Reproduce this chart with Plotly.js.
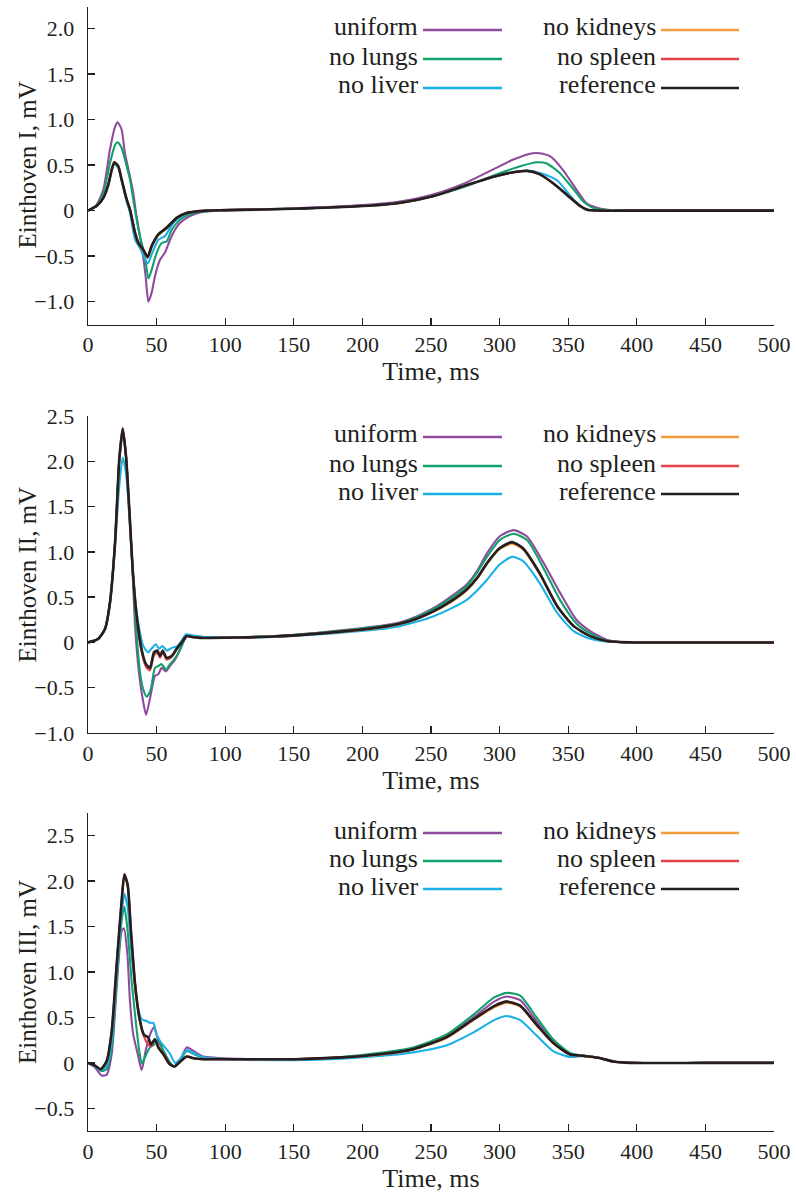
<!DOCTYPE html>
<html>
<head>
<meta charset="utf-8">
<script src="https://cdn.plot.ly/plotly-3.0.1.min.js"></script>
<style>html,body{margin:0;padding:0;background:#fff;}#chart{width:796px;height:1199px;}</style>
</head>
<body>
<div id="chart"></div>
<script>
// ---------- series names & colours ----------
const seriesNames = ["uniform", "no lungs", "no liver", "no kidneys", "no spleen", "reference"];
const seriesColors = ["#8e4b9e", "#12a06a", "#19b0e8", "#f39a3c", "#e6444b", "#231f20"];
const leadTitles = ["Einthoven I, mV", "Einthoven II, mV", "Einthoven III, mV"];
const xTitle = "Time, ms";
const xTickVals = [0, 50, 100, 150, 200, 250, 300, 350, 400, 450, 500];
const xTickText = ["0", "50", "100", "150", "200", "250", "300", "350", "400", "450", "500"];
const yTickValsI = [-1.0, -0.5, 0, 0.5, 1.0, 1.5, 2.0];
const yTickTextI = ["\u22121.0", "\u22120.5", "0", "0.5", "1.0", "1.5", "2.0"];
const yTickValsII = [-1.0, -0.5, 0, 0.5, 1.0, 1.5, 2.0, 2.5];
const yTickTextII = ["\u22121.0", "\u22120.5", "0", "0.5", "1.0", "1.5", "2.0", "2.5"];
const yTickValsIII = [-0.5, 0, 0.5, 1.0, 1.5, 2.0, 2.5];
const yTickTextIII = ["\u22120.5", "0", "0.5", "1.0", "1.5", "2.0", "2.5"];

// ---------- Lead I ----------
const I_uniform_t = [0, 6.3, 11.2, 16.0, 19.7, 21.6, 24.5, 26.9, 30.1, 33.0, 35.0, 37.4, 39.8, 42.0, 44.0, 46.4, 48.8, 52.5, 56.1, 59.8, 63.4, 67.0, 74.3, 81.6, 89, 100, 150, 200, 227, 252, 276, 295, 310, 324, 329, 337, 346, 356, 363, 371, 378, 388, 450, 500];
const I_uniform_v = [0, 0.066, 0.23, 0.67, 0.92, 0.97, 0.89, 0.63, 0.41, 0.19, -0.025, -0.245, -0.46, -0.72, -1.0, -0.90, -0.72, -0.54, -0.46, -0.32, -0.21, -0.135, -0.06, -0.02, 0, 0.005, 0.025, 0.06, 0.10, 0.18, 0.31, 0.45, 0.56, 0.63, 0.63, 0.595, 0.45, 0.23, 0.085, 0.03, 0.01, 0, 0, 0];
const I_lungs_t = [0, 6.3, 11.2, 16.0, 19.7, 21.6, 24.5, 28.2, 30.6, 33.0, 35.5, 37.9, 41.5, 44.0, 46.4, 50.1, 53.7, 57.3, 61.0, 67.0, 74.3, 84.0, 100, 150, 200, 227, 252, 276, 300, 315, 327, 334, 344, 354, 361, 368, 378, 390, 450, 500];
const I_lungs_v = [0, 0.055, 0.19, 0.52, 0.72, 0.75, 0.69, 0.485, 0.34, 0.12, -0.10, -0.28, -0.50, -0.745, -0.65, -0.46, -0.355, -0.34, -0.21, -0.10, -0.04, -0.01, 0.003, 0.02, 0.05, 0.085, 0.16, 0.27, 0.41, 0.486, 0.53, 0.52, 0.41, 0.23, 0.10, 0.03, 0.01, 0, 0, 0];
const I_liver_t = [0, 6.3, 11.2, 14.8, 17.3, 19.2, 22.1, 24.5, 28.2, 30.6, 34.3, 37.9, 43.5, 46.4, 51.3, 56.1, 62.2, 69.5, 79.2, 90, 100, 150, 200, 227, 252, 276, 295, 310, 320, 330, 342, 354, 363, 373, 400, 450, 500];
const I_liver_v = [0, 0.05, 0.14, 0.28, 0.44, 0.51, 0.47, 0.33, 0.10, -0.02, -0.32, -0.41, -0.58, -0.48, -0.32, -0.28, -0.135, -0.05, -0.01, 0, 0.005, 0.02, 0.05, 0.084, 0.16, 0.28, 0.37, 0.42, 0.44, 0.41, 0.33, 0.12, 0.01, 0, 0, 0, 0];
const I_kidneys_t = [0, 6.3, 11.2, 14.8, 17.3, 19.2, 22.1, 24.5, 28.2, 30.6, 34.3, 36.7, 40.3, 43.5, 46.4, 51.3, 57.3, 64.6, 71.9, 86.5, 100, 150, 200, 227, 252, 276, 295, 310, 320, 329, 339, 349, 359, 364, 373, 400, 450, 500];
const I_kidneys_v = [0, 0.05, 0.14, 0.28, 0.45, 0.52, 0.48, 0.34, 0.12, 0.01, -0.25, -0.36, -0.44, -0.52, -0.40, -0.27, -0.19, -0.08, -0.025, 0, 0.005, 0.02, 0.05, 0.084, 0.16, 0.28, 0.37, 0.42, 0.435, 0.40, 0.30, 0.175, 0.048, 0.01, 0, 0, 0, 0];
const I_spleen_t = [0, 6.3, 11.2, 14.8, 17.3, 19.2, 22.1, 24.5, 28.2, 30.6, 34.3, 36.7, 40.3, 43.5, 46.4, 51.3, 57.3, 64.6, 71.9, 86.5, 100, 150, 200, 227, 252, 276, 295, 310, 320, 329, 339, 349, 359, 364, 373, 400, 450, 500];
const I_spleen_v = [0, 0.05, 0.14, 0.285, 0.45, 0.53, 0.485, 0.35, 0.13, 0.02, -0.24, -0.35, -0.43, -0.50, -0.38, -0.26, -0.18, -0.08, -0.025, 0, 0.005, 0.02, 0.05, 0.084, 0.16, 0.28, 0.37, 0.42, 0.437, 0.40, 0.30, 0.17, 0.045, 0.01, 0, 0, 0, 0];
const I_reference_t = [0, 6.3, 11.2, 14.8, 17.3, 19.2, 22.1, 24.5, 28.2, 30.6, 34.3, 36.7, 40.3, 43.5, 46.4, 51.3, 57.3, 64.6, 71.9, 86.5, 100, 150, 200, 227, 252, 276, 295, 310, 320, 329, 339, 349, 359, 364, 373, 400, 450, 500];
const I_reference_v = [0, 0.05, 0.14, 0.285, 0.45, 0.53, 0.485, 0.34, 0.12, 0.01, -0.245, -0.355, -0.43, -0.51, -0.39, -0.26, -0.19, -0.08, -0.025, 0, 0.005, 0.02, 0.05, 0.084, 0.16, 0.28, 0.37, 0.42, 0.436, 0.40, 0.30, 0.175, 0.048, 0.01, 0, 0, 0, 0];

// ---------- Lead II ----------
const II_uniform_t = [0, 7.5, 12.4, 16.0, 19.7, 22.8, 25.3, 27.7, 30.1, 32.6, 34.3, 37.4, 40.3, 42.3, 45.2, 48.8, 51.3, 53.7, 56.8, 59.8, 63.4, 67.0, 72.0, 76.8, 85, 110, 135, 170, 195, 212, 227, 240, 252, 264, 276, 284, 291, 300, 310, 320, 332, 344, 356, 366, 378, 390, 450, 500];
const II_uniform_v = [0, 0.04, 0.15, 0.44, 1.10, 2.0, 2.33, 2.05, 1.45, 0.75, 0.18, -0.37, -0.66, -0.80, -0.62, -0.37, -0.35, -0.28, -0.32, -0.26, -0.19, -0.08, 0.07, 0.065, 0.06, 0.06, 0.07, 0.11, 0.15, 0.18, 0.22, 0.29, 0.38, 0.50, 0.64, 0.80, 0.99, 1.17, 1.24, 1.17, 0.88, 0.55, 0.25, 0.125, 0.03, 0, 0, 0];
const II_lungs_t = [0, 7.5, 12.4, 16.0, 19.7, 22.8, 25.3, 27.7, 30.1, 32.6, 35.0, 37.9, 40.3, 42.8, 45.7, 48.8, 51.3, 53.7, 56.8, 59.8, 64.6, 68.3, 72.0, 76.8, 85, 110, 135, 170, 195, 212, 227, 240, 252, 264, 276, 284, 291, 300, 310, 320, 332, 344, 356, 366, 378, 395, 450, 500];
const II_lungs_v = [0, 0.04, 0.15, 0.44, 1.10, 2.0, 2.33, 2.05, 1.46, 0.78, 0.18, -0.33, -0.52, -0.60, -0.52, -0.28, -0.26, -0.24, -0.30, -0.24, -0.15, -0.04, 0.075, 0.065, 0.06, 0.06, 0.07, 0.11, 0.145, 0.175, 0.21, 0.28, 0.37, 0.48, 0.62, 0.78, 0.95, 1.13, 1.20, 1.13, 0.82, 0.47, 0.21, 0.10, 0.02, 0, 0, 0];
const II_liver_t = [0, 7.5, 12.4, 16.0, 19.7, 22.8, 25.3, 27.7, 30.1, 33.0, 35.9, 40.3, 43.9, 46.2, 49.4, 51.8, 54.2, 57.6, 61.0, 65.1, 68.3, 71.5, 75.6, 85, 110, 135, 170, 195, 212, 227, 240, 252, 264, 276, 284, 291, 300, 309, 317, 329, 342, 354, 366, 378, 395, 450, 500];
const II_liver_v = [0, 0.04, 0.14, 0.42, 1.06, 1.73, 2.04, 1.87, 1.40, 0.73, 0.29, -0.04, -0.11, -0.07, -0.02, -0.07, -0.04, -0.09, -0.06, -0.04, 0.02, 0.09, 0.08, 0.06, 0.055, 0.06, 0.09, 0.12, 0.145, 0.18, 0.23, 0.29, 0.37, 0.47, 0.58, 0.695, 0.86, 0.945, 0.90, 0.66, 0.327, 0.125, 0.04, 0.01, 0, 0, 0];
const II_kidneys_t = [0, 7.5, 12.4, 16.0, 19.7, 22.8, 25.3, 27.7, 30.1, 32.6, 35.0, 39.1, 42.3, 45.2, 48.1, 50.5, 52.5, 54.4, 57.3, 61.0, 64.6, 68.3, 72.0, 75.6, 81.6, 110, 135, 170, 195, 212, 227, 240, 252, 264, 276, 284, 291, 300, 309, 317, 329, 342, 354, 366, 378, 398, 450, 500];
const II_kidneys_v = [0, 0.04, 0.15, 0.44, 1.10, 2.01, 2.35, 2.05, 1.47, 0.80, 0.36, -0.09, -0.25, -0.29, -0.12, -0.10, -0.16, -0.10, -0.18, -0.15, -0.07, 0, 0.07, 0.06, 0.05, 0.055, 0.065, 0.10, 0.13, 0.16, 0.20, 0.26, 0.34, 0.44, 0.575, 0.71, 0.87, 1.03, 1.09, 1.03, 0.76, 0.40, 0.18, 0.07, 0.016, 0, 0, 0];
const II_spleen_t = [0, 7.5, 12.4, 16.0, 19.7, 22.8, 25.3, 27.7, 30.1, 32.6, 35.0, 39.1, 42.3, 45.2, 48.1, 50.5, 52.5, 54.4, 57.3, 61.0, 64.6, 68.3, 72.0, 75.6, 81.6, 110, 135, 170, 195, 212, 227, 240, 252, 264, 276, 284, 291, 300, 309, 317, 329, 342, 354, 366, 378, 398, 450, 500];
const II_spleen_v = [0, 0.04, 0.15, 0.44, 1.10, 2.03, 2.37, 2.06, 1.47, 0.80, 0.35, -0.10, -0.27, -0.31, -0.14, -0.11, -0.17, -0.11, -0.19, -0.16, -0.08, 0, 0.07, 0.06, 0.05, 0.055, 0.065, 0.10, 0.135, 0.165, 0.205, 0.265, 0.345, 0.45, 0.585, 0.72, 0.88, 1.04, 1.10, 1.04, 0.77, 0.40, 0.18, 0.07, 0.016, 0, 0, 0];
const II_reference_t = [0, 7.5, 12.4, 16.0, 19.7, 22.8, 25.3, 27.7, 30.1, 32.6, 35.0, 39.1, 42.3, 45.2, 48.1, 50.5, 52.5, 54.4, 57.3, 61.0, 64.6, 68.3, 72.0, 75.6, 81.6, 110, 135, 170, 195, 212, 227, 240, 252, 264, 276, 284, 291, 300, 309, 317, 329, 342, 354, 366, 378, 398, 450, 500];
const II_reference_v = [0, 0.04, 0.15, 0.44, 1.10, 2.02, 2.36, 2.06, 1.47, 0.80, 0.36, -0.08, -0.24, -0.28, -0.11, -0.09, -0.15, -0.09, -0.17, -0.15, -0.07, 0, 0.07, 0.06, 0.05, 0.055, 0.065, 0.10, 0.135, 0.165, 0.205, 0.265, 0.345, 0.45, 0.585, 0.72, 0.88, 1.04, 1.107, 1.04, 0.77, 0.40, 0.18, 0.07, 0.016, 0, 0, 0];

// ---------- Lead III ----------
const III_uniform_t = [0, 5.1, 10.0, 13.6, 17.3, 20.9, 24.5, 26.2, 28.7, 30.6, 33.0, 36.2, 39.1, 42.0, 45.2, 48.1, 51.3, 55.0, 59.8, 63.0, 67.0, 71.9, 78.0, 84.0, 110, 150, 185, 213, 237, 261, 281, 296, 305, 315, 327, 339, 351, 361, 371, 383, 395, 450, 500];
const III_uniform_v = [0, -0.05, -0.14, -0.13, 0.10, 0.83, 1.45, 1.48, 1.20, 0.68, 0.31, 0.10, -0.08, 0.13, 0.31, 0.39, 0.24, 0.13, 0.0, -0.04, 0.02, 0.17, 0.12, 0.07, 0.045, 0.04, 0.06, 0.10, 0.155, 0.29, 0.50, 0.674, 0.73, 0.69, 0.46, 0.24, 0.10, 0.08, 0.06, 0.015, 0, 0, 0];
const III_lungs_t = [0, 5.1, 10.0, 13.6, 17.3, 20.9, 24.5, 26.5, 28.9, 31.8, 35.0, 37.4, 39.3, 42.3, 45.2, 48.1, 51.3, 55.0, 59.8, 63.0, 67.0, 71.9, 78.0, 84.0, 110, 150, 185, 213, 237, 261, 281, 296, 305, 315, 327, 339, 351, 361, 371, 383, 395, 450, 500];
const III_lungs_v = [0, -0.04, -0.09, -0.07, 0.17, 0.90, 1.56, 1.72, 1.45, 0.90, 0.43, 0.13, -0.01, 0.09, 0.17, 0.20, 0.26, 0.13, 0.0, -0.04, 0.02, 0.13, 0.09, 0.06, 0.04, 0.04, 0.065, 0.11, 0.17, 0.31, 0.53, 0.72, 0.77, 0.74, 0.50, 0.26, 0.11, 0.08, 0.06, 0.015, 0, 0, 0];
const III_liver_t = [0, 5.1, 10.0, 13.6, 17.3, 20.9, 24.5, 26.5, 28.9, 31.8, 35.5, 39.1, 42.8, 45.2, 47.6, 50.1, 52.5, 56.1, 59.8, 63.4, 67.0, 71.9, 78.0, 84.0, 110, 150, 185, 213, 237, 261, 281, 296, 305, 315, 327, 339, 351, 361, 371, 383, 395, 450, 500];
const III_liver_v = [0, -0.04, -0.08, -0.03, 0.24, 0.97, 1.63, 1.86, 1.71, 1.20, 0.68, 0.48, 0.46, 0.44, 0.44, 0.31, 0.24, 0.17, 0.10, 0.0, 0.04, 0.14, 0.10, 0.06, 0.035, 0.03, 0.045, 0.075, 0.115, 0.19, 0.335, 0.47, 0.516, 0.47, 0.30, 0.13, 0.065, 0.077, 0.058, 0.015, 0, 0, 0];
const III_kidneys_t = [0, 5.1, 9.2, 13.6, 17.3, 20.9, 24.5, 26.5, 28.9, 31.3, 34.3, 37.4, 40.8, 44.0, 45.9, 48.8, 51.3, 55.0, 59.3, 63.0, 67.0, 71.9, 76.8, 84.0, 110, 150, 185, 213, 237, 261, 281, 296, 305, 315, 327, 339, 351, 361, 371, 383, 395, 450, 500];
const III_kidneys_v = [0, -0.03, -0.07, 0.02, 0.35, 1.08, 1.77, 2.06, 1.95, 1.44, 0.86, 0.49, 0.30, 0.27, 0.20, 0.25, 0.17, 0.095, -0.01, -0.04, 0.01, 0.07, 0.05, 0.04, 0.04, 0.04, 0.06, 0.09, 0.145, 0.27, 0.47, 0.61, 0.66, 0.62, 0.41, 0.22, 0.095, 0.077, 0.058, 0.015, 0, 0, 0];
const III_spleen_t = [0, 5.1, 9.2, 13.6, 17.3, 20.9, 24.5, 26.5, 28.9, 31.3, 34.3, 37.4, 40.8, 44.0, 45.9, 48.8, 51.3, 55.0, 59.3, 63.0, 67.0, 71.9, 76.8, 84.0, 110, 150, 185, 213, 237, 261, 281, 296, 305, 315, 327, 339, 351, 361, 371, 383, 395, 450, 500];
const III_spleen_v = [0, -0.03, -0.07, 0.02, 0.35, 1.08, 1.78, 2.08, 1.96, 1.45, 0.87, 0.50, 0.29, 0.20, 0.18, 0.26, 0.16, 0.09, -0.01, -0.04, 0.01, 0.07, 0.05, 0.04, 0.04, 0.04, 0.06, 0.095, 0.15, 0.28, 0.48, 0.625, 0.674, 0.63, 0.42, 0.22, 0.095, 0.077, 0.058, 0.015, 0, 0, 0];
const III_reference_t = [0, 5.1, 9.2, 13.6, 17.3, 20.9, 24.5, 26.5, 28.9, 31.3, 34.3, 37.4, 40.8, 44.0, 45.9, 48.8, 51.3, 55.0, 59.3, 63.0, 67.0, 71.9, 76.8, 84.0, 110, 150, 185, 213, 237, 261, 281, 296, 305, 315, 327, 339, 351, 361, 371, 383, 395, 450, 500];
const III_reference_v = [0, -0.03, -0.07, 0.02, 0.35, 1.08, 1.78, 2.07, 1.96, 1.45, 0.87, 0.50, 0.31, 0.28, 0.20, 0.26, 0.17, 0.095, -0.01, -0.04, 0.01, 0.07, 0.05, 0.04, 0.04, 0.04, 0.06, 0.095, 0.15, 0.28, 0.48, 0.625, 0.674, 0.63, 0.42, 0.22, 0.095, 0.077, 0.058, 0.015, 0, 0, 0];

// ---------- build ----------
const W = 796, H = 1199;
const px = x => x / W;
const py = y => 1 - y / H;
const FONT = "'Liberation Serif', 'Times New Roman', serif";
const INK = "#231f20";
const TICK_SIZE = 22, TITLE_SIZE = 26, LEGEND_SIZE = 26;

const leads = [
  {series: [[I_uniform_t, I_uniform_v], [I_lungs_t, I_lungs_v], [I_liver_t, I_liver_v], [I_kidneys_t, I_kidneys_v], [I_spleen_t, I_spleen_v], [I_reference_t, I_reference_v]],
   yrange: [-1.25, 2.24], tv: yTickValsI, tt: yTickTextI, top: 6.5, bottom: 324.5, legendRows: [30, 59, 88]},
  {series: [[II_uniform_t, II_uniform_v], [II_lungs_t, II_lungs_v], [II_liver_t, II_liver_v], [II_kidneys_t, II_kidneys_v], [II_spleen_t, II_spleen_v], [II_reference_t, II_reference_v]],
   yrange: [-1.0, 2.5], tv: yTickValsII, tt: yTickTextII, top: 416, bottom: 733, legendRows: [437, 466, 494]},
  {series: [[III_uniform_t, III_uniform_v], [III_lungs_t, III_lungs_v], [III_liver_t, III_liver_v], [III_kidneys_t, III_kidneys_v], [III_spleen_t, III_spleen_v], [III_reference_t, III_reference_v]],
   yrange: [-0.75, 2.75], tv: yTickValsIII, tt: yTickTextIII, top: 813, bottom: 1131, legendRows: [833, 861, 889]}
];

const traces = [];
const layout = {
  width: W, height: H,
  margin: {l: 0, r: 0, t: 0, b: 0},
  paper_bgcolor: "#fff", plot_bgcolor: "#fff",
  showlegend: false,
  font: {family: FONT, size: TICK_SIZE, color: INK},
  annotations: [], shapes: []
};

leads.forEach((L, i) => {
  const n = i + 1;
  const xa = n === 1 ? "x" : "x" + n;
  const ya = n === 1 ? "y" : "y" + n;
  L.series.forEach((s, k) => {
    traces.push({
      x: s[0], y: s[1], xaxis: xa, yaxis: ya, type: "scatter", mode: "lines",
      name: seriesNames[k],
      line: {color: seriesColors[k], width: k === 5 ? 2.6 : 2.1, shape: "spline", smoothing: 0.6},
      hoverinfo: "skip"
    });
  });
  layout["xaxis" + (n === 1 ? "" : n)] = {
    domain: [px(88), px(774)], anchor: ya, range: [0, 500],
    tickmode: "array", tickvals: xTickVals, ticktext: xTickText,
    ticks: "inside", ticklen: 7, tickwidth: 1.4, tickcolor: INK,
    showline: true, linecolor: INK, linewidth: 1.4, showgrid: false, zeroline: false,
    tickfont: {family: FONT, size: TICK_SIZE, color: INK},
    title: {text: xTitle, font: {family: FONT, size: TITLE_SIZE, color: INK}, standoff: 5}
  };
  layout["yaxis" + (n === 1 ? "" : n)] = {
    domain: [py(L.bottom), py(L.top)], anchor: xa, range: L.yrange,
    tickmode: "array", tickvals: L.tv, ticktext: L.tt,
    ticks: "inside", ticklen: 7, tickwidth: 1.4, tickcolor: INK,
    showline: true, linecolor: INK, linewidth: 1.4, showgrid: false, zeroline: false,
    tickfont: {family: FONT, size: TICK_SIZE, color: INK},
    ticklabelstandoff: 8
  };
  // y-axis title
  layout.annotations.push({
    text: leadTitles[i], xref: "paper", yref: "paper",
    x: px(27), y: py((L.top + L.bottom) / 2), xanchor: "center", yanchor: "middle",
    textangle: -90, showarrow: false, font: {family: FONT, size: 25, color: INK}
  });
  // custom legend: text right-aligned, line sample after it
  for (let k = 0; k < 6; k++) {
    const col = Math.floor(k / 3), row = k % 3;
    const textRight = col === 0 ? 420 : 658;
    const lx0 = col === 0 ? 423 : 661;
    const lx1 = col === 0 ? 502 : 739;
    const ly = L.legendRows[row];
    layout.annotations.push({
      text: seriesNames[k], xref: "paper", yref: "paper",
      x: px(textRight), y: py(ly - 3), xanchor: "right", yanchor: "middle",
      showarrow: false, font: {family: FONT, size: LEGEND_SIZE, color: INK}
    });
    layout.shapes.push({
      type: "line", xref: "paper", yref: "paper",
      x0: px(lx0), x1: px(lx1), y0: py(ly), y1: py(ly),
      line: {color: seriesColors[k], width: 2.3}
    });
  }
});

Plotly.newPlot("chart", traces, layout, {displayModeBar: false, staticPlot: true});
</script>
</body>
</html>
